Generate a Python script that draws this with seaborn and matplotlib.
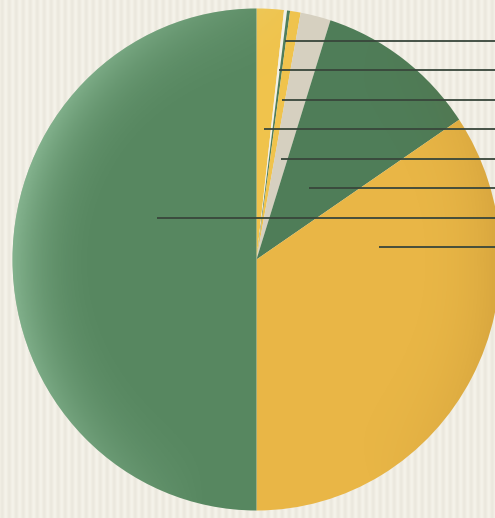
import numpy as np
import matplotlib
matplotlib.use("Agg")
import matplotlib.pyplot as plt
import seaborn as sns
from matplotlib.patches import Circle

# slice shares (percent), clockwise from 12 o'clock
shares = [1.8, 0.2, 0.2, 0.7, 2.0, 10.7, 34.4, 50.0]
slice_colors = ["#f0c34c", "#f3f1e6", "#4e7d5a", "#f0c34c",
                "#d6d0c0", "#4f7d58", "#e9b646", "#578760"]

# leader lines, top to bottom: which slice each one points into
leader_order = [2, 1, 3, 0, 4, 5, 7, 6]

sns.set_theme(style="white")

W, H, DPI = 495, 518, 100
fig = plt.figure(figsize=(W / DPI, H / DPI), dpi=DPI)

# striped paper background
bg = fig.add_axes([0, 0, 1, 1])
xs = np.arange(W)
stripe = 0.5 + 0.5 * np.sin(2 * np.pi * xs / 7.0)
base = np.array([0.96, 0.95, 0.915])
dark = np.array([0.89, 0.875, 0.83])
row = base[None, :] * (1 - stripe[:, None] * 0.5) + dark[None, :] * stripe[:, None] * 0.5
bg.imshow(np.repeat(row[None, :, :], H, axis=0), aspect="auto", extent=(0, 1, 0, 1))
bg.set_axis_off()

# pie geometry in pixels
cx, cy, rx, ry = 256.5, 259.5, 244.0, 251.0

ax = fig.add_axes([0, 0, 1, 1])
ax.set_facecolor("none")
wedges, _ = ax.pie(shares, colors=slice_colors, startangle=90, counterclock=False,
                   radius=1, wedgeprops=dict(linewidth=0))
ax.set_aspect("auto")
x0, x1 = -cx / rx, (W - cx) / rx
y0, y1 = -(H - cy) / ry, cy / ry
ax.set_xlim(x0, x1)
ax.set_ylim(y0, y1)
ax.set_axis_off()

# soft lighting on the plate: lighter at left rim, a touch darker at right rim
gx, gy = np.meshgrid(np.linspace(x0, x1, 400), np.linspace(y1, y0, 400))
r = np.sqrt(gx ** 2 + gy ** 2)
rim = np.clip((r - 0.6) / 0.4, 0, 1) ** 2.2
light = rim * np.clip(-gx * 1.0 + gy * 0.2, 0, 1) * 0.38
shade = rim * np.clip(gx * 1.0 - abs(gy) * 0.5, 0, 1) * 0.14
over = np.zeros(gx.shape + (4,))
over[..., :3] = np.where((light > shade)[..., None], [0.8, 0.98, 0.85], [0.4, 0.25, 0.05])
over[..., 3] = np.maximum(light, shade)
im = ax.imshow(over, extent=(x0, x1, y0, y1), aspect="auto", zorder=3)
im.set_clip_path(Circle((0, 0), 1, transform=ax.transData))

# leader lines, evenly spaced, running off the right edge
cum = np.cumsum(shares)
mids = np.radians(360 * (cum - np.array(shares) / 2) / 100)
top_y = (cy - 40.7) / ry
step = 29.5 / ry
fixed_start = {7: (157 - cx) / rx, 6: (379 - cx) / rx}
for i, k in enumerate(leader_order):
    y = top_y - i * step
    xs0 = fixed_start.get(k, y * np.tan(mids[k]))
    ax.plot([xs0, x1], [y, y], color="#38463b", lw=1.3, zorder=4, solid_capstyle="butt")

plt.savefig("out.png", dpi=DPI)
